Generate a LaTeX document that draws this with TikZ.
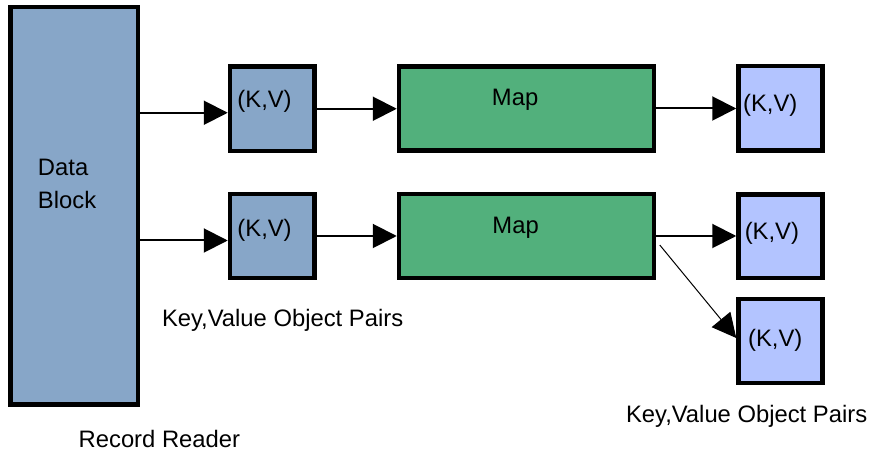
\documentclass[tikz,border=0pt]{standalone}
\usepackage{fontspec}
\setmainfont{Liberation Sans}
\usetikzlibrary{arrows.meta,calc}

\definecolor{blockblue}{RGB}{135,166,200}
\definecolor{mapgreen}{RGB}{82,176,124}
\definecolor{kvlav}{RGB}{179,196,255}

\tikzset{
  box/.style={draw=black, line width=4.5bp, rectangle, inner sep=0pt},
  txt/.style={inner sep=0pt, anchor=base west, font=\fontsize{23.8bp}{28bp}\selectfont},
  arr/.style={line width=2bp, -{Triangle[length=24bp,width=24bp]}},
  thinarr/.style={line width=1bp, -{Triangle[length=24bp,width=24bp]}},
}

\begin{document}
\begin{tikzpicture}[x=1bp, y=-1bp]
  \useasboundingbox (0,0) rectangle (874,455);

  % input split
  \node[box, fill=blockblue, minimum width=127.5bp, minimum height=397.5bp] (data) at (74.25,205.75) {};
  \node[txt] (datat1) at (37.8,176) {Data};
  \node[txt] (datat2) at (37.8,209) {Block};

  % key/value pairs from the record reader
  \node[box, fill=blockblue, minimum width=84.5bp, minimum height=84.5bp] (kv1) at (272.25,108.75) {};
  \node[box, fill=blockblue, minimum width=84.5bp, minimum height=84bp] (kv2) at (272.25,236) {};
  \node[txt] at ($(kv1.north west)+(9.5,43.5)$) {(K,V)};
  \node[txt] at ($(kv2.north west)+(9.5,45)$) {(K,V)};

  % map tasks
  \node[box, fill=mapgreen, minimum width=255bp, minimum height=84bp] (map1) at (526.5,108.5) {};
  \node[box, fill=mapgreen, minimum width=255bp, minimum height=84bp] (map2) at (526.5,236) {};
  \node[txt] at ($(map1.north west)+(95,40.8)$) {Map};
  \node[txt] at ($(map2.north west)+(95.5,42)$) {Map};

  % intermediate output pairs
  \node[box, fill=kvlav, minimum width=84bp, minimum height=84.5bp] (r1) at (780.5,108.25) {};
  \node[box, fill=kvlav, minimum width=84bp, minimum height=83.5bp] (r2) at (780.5,236.25) {};
  \node[box, fill=kvlav, minimum width=84bp, minimum height=84bp] (r3) at (780.5,341) {};
  \node[txt] at ($(r1.north west)+(6.7,47.3)$) {(K,V)};
  \node[txt] at ($(r2.north west)+(8.3,47.2)$) {(K,V)};
  \node[txt] at ($(r3.north west)+(11.7,50)$) {(K,V)};

  % captions
  \node[txt] (cap1) at (161.8,326.7) {Key,Value Object Pairs};
  \node[txt] (cap2) at (625.8,422.7) {Key,Value Object Pairs};
  \node[txt] (cap3) at (78.5,447.3) {Record Reader};

  % connectors
  \draw[arr] ($(data.east |- kv1.west)+(0,4)$) -- ($(kv1.west)+(0,4)$);
  \draw[arr] ($(data.east |- kv2.west)+(0,4.5)$) -- ($(kv2.west)+(0,4.5)$);
  \draw[arr] (kv1.east) -- (kv1.east -| map1.west);
  \draw[arr] (kv2.east) -- (kv2.east -| map2.west);
  \draw[arr] (map1.east) -- (map1.east -| r1.west);
  \draw[arr] (map2.east) -- (map2.east -| r2.west);
  \coordinate (split) at ($(map2.east)+(3.5,9)$);
  \draw[thinarr] (split) -- ($(r3.west)+(0,-3)$);
\end{tikzpicture}
\end{document}
